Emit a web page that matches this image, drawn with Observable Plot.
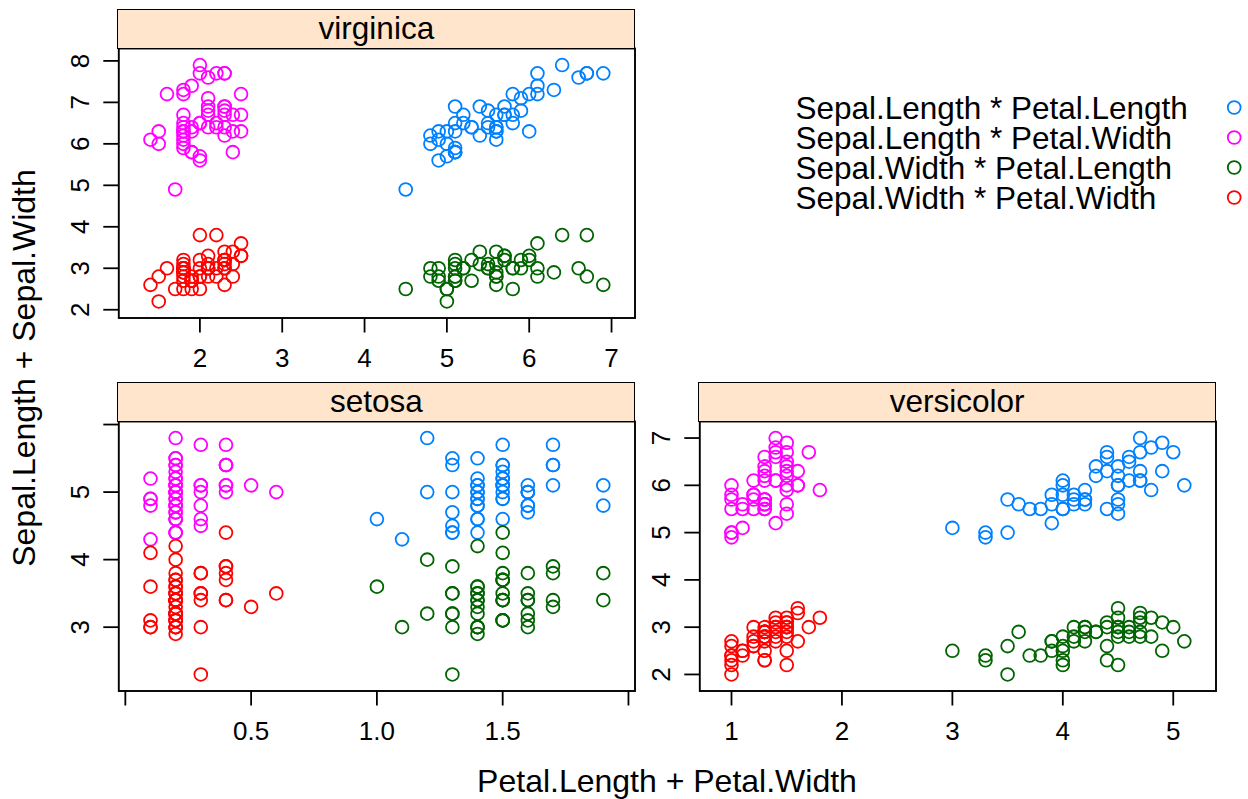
<!DOCTYPE html>
<html><head><meta charset="utf-8">
<script src="https://cdn.jsdelivr.net/npm/d3@7"></script>
<script src="https://cdn.jsdelivr.net/npm/@observablehq/plot@0.6"></script>
<style>
html,body{margin:0;padding:0;background:#fff;}
#chart{position:relative;width:1248px;height:799px;overflow:hidden;font-family:"Liberation Sans",Arial,Helvetica,sans-serif;color:#000;}
.strip{position:absolute;box-sizing:border-box;background:#ffe5cc;border:1.8px solid #000;text-align:center;font-size:31.5px;}
</style></head><body><div id="chart"></div>
<script>
// ---- iris data by species ----
const setosaSepalLength = [5.1,4.9,4.7,4.6,5.0,5.4,4.6,5.0,4.4,4.9,5.4,4.8,4.8,4.3,5.8,5.7,5.4,5.1,5.7,5.1,5.4,5.1,4.6,5.1,4.8,5.0,5.0,5.2,5.2,4.7,4.8,5.4,5.2,5.5,4.9,5.0,5.5,4.9,4.4,5.1,5.0,4.5,4.4,5.0,5.1,4.8,5.1,4.6,5.3,5.0];
const setosaSepalWidth  = [3.5,3.0,3.2,3.1,3.6,3.9,3.4,3.4,2.9,3.1,3.7,3.4,3.0,3.0,4.0,4.4,3.9,3.5,3.8,3.8,3.4,3.7,3.6,3.3,3.4,3.0,3.4,3.5,3.4,3.2,3.1,3.4,4.1,4.2,3.1,3.2,3.5,3.6,3.0,3.4,3.5,2.3,3.2,3.5,3.8,3.0,3.8,3.2,3.7,3.3];
const setosaPetalLength = [1.4,1.4,1.3,1.5,1.4,1.7,1.4,1.5,1.4,1.5,1.5,1.6,1.4,1.1,1.2,1.5,1.3,1.4,1.7,1.5,1.7,1.5,1.0,1.7,1.9,1.6,1.6,1.5,1.4,1.6,1.6,1.5,1.5,1.4,1.5,1.2,1.3,1.4,1.3,1.5,1.3,1.3,1.3,1.6,1.9,1.4,1.6,1.4,1.5,1.4];
const setosaPetalWidth  = [0.2,0.2,0.2,0.2,0.2,0.4,0.3,0.2,0.2,0.1,0.2,0.2,0.1,0.1,0.2,0.4,0.4,0.3,0.3,0.3,0.2,0.4,0.2,0.5,0.2,0.2,0.4,0.2,0.2,0.2,0.2,0.4,0.1,0.2,0.2,0.2,0.2,0.1,0.2,0.2,0.3,0.3,0.2,0.6,0.4,0.3,0.2,0.2,0.2,0.2];

const versicolorSepalLength = [7.0,6.4,6.9,5.5,6.5,5.7,6.3,4.9,6.6,5.2,5.0,5.9,6.0,6.1,5.6,6.7,5.6,5.8,6.2,5.6,5.9,6.1,6.3,6.1,6.4,6.6,6.8,6.7,6.0,5.7,5.5,5.5,5.8,6.0,5.4,6.0,6.7,6.3,5.6,5.5,5.5,6.1,5.8,5.0,5.6,5.7,5.7,6.2,5.1,5.7];
const versicolorSepalWidth  = [3.2,3.2,3.1,2.3,2.8,2.8,3.3,2.4,2.9,2.7,2.0,3.0,2.2,2.9,2.9,3.1,3.0,2.7,2.2,2.5,3.2,2.8,2.5,2.8,2.9,3.0,2.8,3.0,2.9,2.6,2.4,2.4,2.7,2.7,3.0,3.4,3.1,2.3,3.0,2.5,2.6,3.0,2.6,2.3,2.7,3.0,2.9,2.9,2.5,2.8];
const versicolorPetalLength = [4.7,4.5,4.9,4.0,4.6,4.5,4.7,3.3,4.6,3.9,3.5,4.2,4.0,4.7,3.6,4.4,4.5,4.1,4.5,3.9,4.8,4.0,4.9,4.7,4.3,4.4,4.8,5.0,4.5,3.5,3.8,3.7,3.9,5.1,4.5,4.5,4.7,4.4,4.1,4.0,4.4,4.6,4.0,3.3,4.2,4.2,4.2,4.3,3.0,4.1];
const versicolorPetalWidth  = [1.4,1.5,1.5,1.3,1.5,1.3,1.6,1.0,1.3,1.4,1.0,1.5,1.0,1.4,1.3,1.4,1.5,1.0,1.5,1.1,1.8,1.3,1.5,1.2,1.3,1.4,1.4,1.7,1.5,1.0,1.1,1.0,1.2,1.6,1.5,1.6,1.5,1.3,1.3,1.3,1.2,1.4,1.2,1.0,1.3,1.2,1.3,1.3,1.1,1.3];

const virginicaSepalLength = [6.3,5.8,7.1,6.3,6.5,7.6,4.9,7.3,6.7,7.2,6.5,6.4,6.8,5.7,5.8,6.4,6.5,7.7,7.7,6.0,6.9,5.6,7.7,6.3,6.7,7.2,6.2,6.1,6.4,7.2,7.4,7.9,6.4,6.3,6.1,7.7,6.3,6.4,6.0,6.9,6.7,6.9,5.8,6.8,6.7,6.7,6.3,6.5,6.2,5.9];
const virginicaSepalWidth  = [3.3,2.7,3.0,2.9,3.0,3.0,2.5,2.9,2.5,3.6,3.2,2.7,3.0,2.5,2.8,3.2,3.0,3.8,2.6,2.2,3.2,2.8,2.8,2.7,3.3,3.2,2.8,3.0,2.8,3.0,2.8,3.8,2.8,2.8,2.6,3.0,3.4,3.1,3.0,3.1,3.1,3.1,2.7,3.2,3.3,3.0,2.5,3.0,3.4,3.0];
const virginicaPetalLength = [6.0,5.1,5.9,5.6,5.8,6.6,4.5,6.3,5.8,6.1,5.1,5.3,5.5,5.0,5.1,5.3,5.5,6.7,6.9,5.0,5.7,4.9,6.7,4.9,5.7,6.0,4.8,4.9,5.6,5.8,6.1,6.4,5.6,5.1,5.6,6.1,5.6,5.5,4.8,5.4,5.6,5.1,5.1,5.9,5.7,5.2,5.0,5.2,5.4,5.1];
const virginicaPetalWidth  = [2.5,1.9,2.1,1.8,2.2,2.1,1.7,1.8,1.8,2.5,2.0,1.9,2.1,2.0,2.4,2.3,1.8,2.2,2.3,1.5,2.3,2.0,2.0,1.8,2.1,1.8,1.8,1.8,2.1,1.6,1.9,2.0,2.2,1.5,1.4,2.3,2.4,1.8,1.8,2.1,2.4,2.3,1.9,2.3,2.5,2.3,1.9,2.0,2.3,1.8];

// ---- series / legend ----
const seriesNames  = ["Sepal.Length * Petal.Length","Sepal.Length * Petal.Width","Sepal.Width * Petal.Length","Sepal.Width * Petal.Width"];
const seriesColors = ["#0080ff","#ff00ff","#006400","#ff0000"];

// ---- ticks ----
const virginicaXTicks = [2,3,4,5,6,7];       const virginicaXLabels = ["2","3","4","5","6","7"];
const virginicaYTicks = [2,3,4,5,6,7,8];     const virginicaYLabels = ["2","3","4","5","6","7","8"];
const setosaXTicks = [0,0.5,1,1.5,2];        const setosaXLabels = ["","0.5","1.0","1.5",""];
const setosaYTicks = [3,4,5,6];              const setosaYLabels = ["3","4","5",""];
const versicolorXTicks = [1,2,3,4,5];        const versicolorXLabels = ["1","2","3","4","5"];
const versicolorYTicks = [2,3,4,5,6,7];      const versicolorYLabels = ["2","3","4","5","6","7"];

const xTitle = "Petal.Length + Petal.Width";
const yTitle = "Sepal.Length + Sepal.Width";

function speciesRows(sl, sw, pl, pw) {
  const pairs = [[sl, pl], [sl, pw], [sw, pl], [sw, pw]];
  return pairs.flatMap(([ys, xs], k) => xs.map((x, i) => ({x, y: ys[i], series: seriesNames[k]})));
}
function padded(vals) { const [a, b] = d3.extent(vals); const p = (b - a) * 0.07; return [a - p, b + p]; }

const chart = document.getElementById("chart");
const FONT = '"Liberation Sans", Arial, Helvetica, sans-serif';
const panelW = 516.2, panelH = 269.5, stripH = 38.2;
const panels = [
  {name: "virginica", left: 118.3, top: 47.7,
   rows: speciesRows(virginicaSepalLength, virginicaSepalWidth, virginicaPetalLength, virginicaPetalWidth),
   xt: virginicaXTicks, xl: virginicaXLabels, yt: virginicaYTicks, yl: virginicaYLabels},
  {name: "setosa", left: 118.3, top: 420.7,
   rows: speciesRows(setosaSepalLength, setosaSepalWidth, setosaPetalLength, setosaPetalWidth),
   xt: setosaXTicks, xl: setosaXLabels, yt: setosaYTicks, yl: setosaYLabels},
  {name: "versicolor", left: 699, top: 420.7,
   rows: speciesRows(versicolorSepalLength, versicolorSepalWidth, versicolorPetalLength, versicolorPetalWidth),
   xt: versicolorXTicks, xl: versicolorXLabels, yt: versicolorYTicks, yl: versicolorYLabels}
];

const ML = 118.3, MR = 6, MB = 80;
for (const p of panels) {
  const svg = Plot.plot({
    width: ML + panelW + MR, height: panelH + MB,
    marginLeft: ML, marginRight: MR, marginTop: 0, marginBottom: MB,
    x: {domain: padded(p.rows.map(d => d.x))},
    y: {domain: padded(p.rows.map(d => d.y))},
    color: {domain: seriesNames, range: seriesColors},
    style: {background: "transparent", overflow: "visible", fontFamily: FONT, color: "#000"},
    marks: [
      Plot.dot(p.rows, {x: "x", y: "y", stroke: "series", r: 6.4, strokeWidth: 1.8}),
      Plot.axisX({ticks: p.xt, tickFormat: d => p.xl[p.xt.indexOf(d)], tickSize: 15, tickPadding: 16,
                  fontSize: 26, strokeWidth: 1.8, label: null}),
      Plot.axisY({ticks: p.yt, tickFormat: d => p.yl[p.yt.indexOf(d)], tickSize: 15, tickPadding: 15,
                  tickRotate: -90, textAnchor: "middle", lineAnchor: "bottom",
                  fontSize: 26, strokeWidth: 1.8, label: null}),
      Plot.frame({stroke: "#000", strokeWidth: 1.9})
    ]
  });
  svg.style.position = "absolute";
  svg.style.left = (p.left - ML) + "px";
  svg.style.top = p.top + "px";
  svg.style.maxWidth = "none";
  chart.appendChild(svg);

  const strip = document.createElement("div");
  strip.className = "strip";
  strip.style.left = (p.left - 0.9) + "px";
  strip.style.top = (p.top - stripH - 0.9) + "px";
  strip.style.width = (panelW + 1.8) + "px";
  strip.style.height = (stripH + 1.8) + "px";
  strip.style.lineHeight = (stripH - 1.8) + "px";
  strip.textContent = p.name;
  chart.appendChild(strip);
}

// ---- legend ----
const legLeft = 795, legTop = 80, legW = 460, legRight = 1233.7;
const legend = Plot.plot({
  width: legW, height: 140,
  marginLeft: 0, marginRight: legW - (legRight - legLeft), marginTop: 0, marginBottom: 0,
  x: {domain: [0, 1], axis: null},
  y: {type: "point", domain: seriesNames, range: [26.7, 117.3], padding: 0, axis: null},
  color: {domain: seriesNames, range: seriesColors},
  style: {background: "transparent", overflow: "visible", fontFamily: FONT, color: "#000"},
  marks: [
    Plot.text(seriesNames, {y: d => d, text: d => d, frameAnchor: "left", textAnchor: "start",
                            lineAnchor: "middle", fontSize: 31.5, dy: 1.5, fill: "#000"}),
    Plot.dot(seriesNames, {y: d => d, frameAnchor: "right", stroke: d => d, r: 6.4, strokeWidth: 1.8})
  ]
});
legend.style.position = "absolute";
legend.style.left = legLeft + "px";
legend.style.top = legTop + "px";
legend.style.maxWidth = "none";
chart.appendChild(legend);

// ---- axis titles ----
const overlay = d3.select(chart).append("svg")
  .attr("width", 1248).attr("height", 799)
  .style("position", "absolute").style("left", 0).style("top", 0).style("pointer-events", "none")
  .style("font-family", FONT);
overlay.append("text").attr("x", 667).attr("y", 792).attr("text-anchor", "middle")
  .attr("font-size", 32).attr("fill", "#000").text(xTitle);
overlay.append("text").attr("transform", "translate(35,368) rotate(-90)").attr("text-anchor", "middle")
  .attr("font-size", 32).attr("fill", "#000").text(yTitle);
</script>
</body></html>
